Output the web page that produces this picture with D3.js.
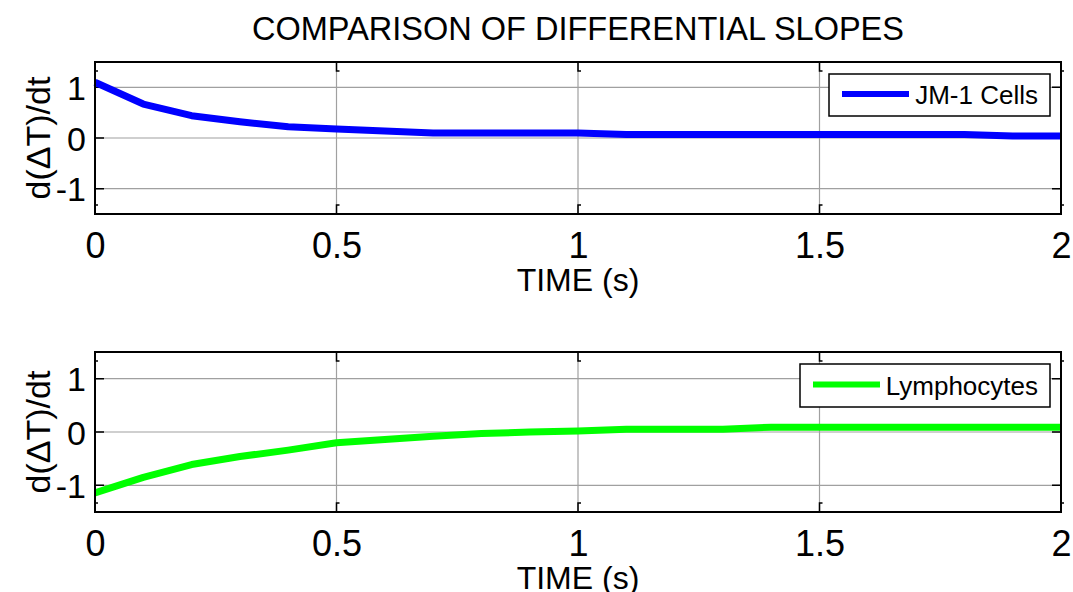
<!DOCTYPE html>
<html>
<head>
<meta charset="utf-8">
<script src="https://cdn.jsdelivr.net/npm/d3@7"></script>
<style>
  html, body { margin: 0; padding: 0; background: #fff; }
  svg { display: block; font-family: Arial, "Liberation Sans", sans-serif; }
</style>
</head>
<body>
<svg id="chart" width="1073" height="592"></svg>
<script>
// Time samples (s)
const time = [0, 0.1, 0.2, 0.3, 0.4, 0.5, 0.6, 0.7, 0.8, 0.9, 1.0,
              1.1, 1.2, 1.3, 1.4, 1.5, 1.6, 1.7, 1.8, 1.9, 2.0];
// Differential slope d(ΔT)/dt for each cell type
const jm1Cells = [1.10, 0.67, 0.44, 0.32, 0.22, 0.18, 0.14, 0.10, 0.10, 0.10, 0.10,
                  0.07, 0.07, 0.07, 0.07, 0.07, 0.07, 0.07, 0.07, 0.04, 0.04];
const lymphocytes = [-1.14, -0.85, -0.61, -0.46, -0.34, -0.20, -0.14, -0.08, -0.03, 0.00, 0.02,
                     0.05, 0.05, 0.05, 0.09, 0.09, 0.09, 0.09, 0.09, 0.09, 0.09];
const xTicks = [0, 0.5, 1, 1.5, 2];
const yTicks = [-1, 0, 1];
const xDomain = [0, 2];
const yDomain = [-1.5, 1.5];

const FONT = "Arial, 'Liberation Sans', sans-serif";
const svg = d3.select("#chart");

svg.append("text")
  .attr("x", 578).attr("y", 40)
  .attr("text-anchor", "middle")
  .attr("font-size", 32.5)
  .text("COMPARISON OF DIFFERENTIAL SLOPES");

const panels = [
  { data: jm1Cells, color: "#0000ff", name: "JM-1 Cells",
    top: 62, bottom: 214, legend: { x0: 829, x1: 1050, y0: 74, y1: 116 } },
  { data: lymphocytes, color: "#00ff00", name: "Lymphocytes",
    top: 352, bottom: 512, legend: { x0: 800, x1: 1050, y0: 364, y1: 407 } }
];

const left = 95, right = 1061;
const tickText = d => String(d);

panels.forEach(p => {
  const x = d3.scaleLinear().domain(xDomain).range([left, right]);
  const y = d3.scaleLinear().domain(yDomain).range([p.bottom, p.top]);
  const g = svg.append("g");

  // grid
  g.selectAll(".gx").data(xTicks.slice(1, -1)).join("line")
    .attr("x1", d => x(d)).attr("x2", d => x(d))
    .attr("y1", p.top).attr("y2", p.bottom)
    .attr("stroke", "#a0a0a0").attr("stroke-width", 1.2);
  g.selectAll(".gy").data(yTicks).join("line")
    .attr("x1", left).attr("x2", right)
    .attr("y1", d => y(d)).attr("y2", d => y(d))
    .attr("stroke", "#a0a0a0").attr("stroke-width", 1.2);

  // tick marks (inward, on all four sides)
  const tl = 9;
  xTicks.forEach(t => {
    const xx = x(t);
    g.append("path")
      .attr("d", `M${xx},${p.top}V${p.top + tl}h3M${xx},${p.bottom}V${p.bottom - tl}h3`)
      .attr("fill", "none").attr("stroke", "#000").attr("stroke-width", 1.5);
  });
  yTicks.forEach(t => {
    const yy = y(t);
    g.append("path")
      .attr("d", `M${left},${yy}h${tl}M${right},${yy}h${-tl}`)
      .attr("fill", "none").attr("stroke", "#000").attr("stroke-width", 1.5);
  });

  // data line
  const line = d3.line().x((d, i) => x(time[i])).y(d => y(d));
  g.append("path")
    .datum(p.data)
    .attr("d", line)
    .attr("fill", "none")
    .attr("stroke", p.color)
    .attr("stroke-width", 7)
    .attr("stroke-linejoin", "round");

  // axes box
  g.append("rect")
    .attr("x", left).attr("y", p.top)
    .attr("width", right - left).attr("height", p.bottom - p.top)
    .attr("fill", "none").attr("stroke", "#000").attr("stroke-width", 2);

  // tick labels
  const xAxis = d3.axisBottom(x).tickValues(xTicks).tickSize(0).tickPadding(0)
    .tickFormat(tickText);
  const ax = g.append("g").attr("transform", `translate(0,${p.bottom})`).call(xAxis);
  ax.select(".domain").remove();
  ax.selectAll("text").attr("font-size", 36).attr("dy", null).attr("y", 44)
    .attr("fill", "#000").attr("font-family", FONT);

  const yAxis = d3.axisLeft(y).tickValues(yTicks).tickSize(0).tickPadding(0)
    .tickFormat(tickText);
  const ay = g.append("g").attr("transform", `translate(${left},0)`).call(yAxis);
  ay.select(".domain").remove();
  ay.selectAll("text").attr("font-size", 34).attr("x", -9).attr("dy", "0.36em")
    .attr("fill", "#000").attr("font-family", FONT);

  // axis titles
  g.append("text")
    .attr("x", (left + right) / 2).attr("y", p.bottom + 77)
    .attr("text-anchor", "middle").attr("font-size", 32)
    .text("TIME (s)");
  g.append("text")
    .attr("transform", `translate(50,${(p.top + p.bottom) / 2}) rotate(-90)`)
    .attr("text-anchor", "middle").attr("font-size", 34)
    .text("d(\u0394T)/dt");

  // legend
  const L = p.legend;
  g.append("rect")
    .attr("x", L.x0).attr("y", L.y0)
    .attr("width", L.x1 - L.x0).attr("height", L.y1 - L.y0)
    .attr("fill", "#fff").attr("stroke", "#000").attr("stroke-width", 1.5);
  const ly = (L.y0 + L.y1) / 2 - 1;
  g.append("line")
    .attr("x1", L.x0 + 13).attr("x2", L.x0 + 80)
    .attr("y1", ly).attr("y2", ly)
    .attr("stroke", p.color).attr("stroke-width", 6);
  g.append("text")
    .attr("x", L.x1 - 12).attr("y", ly + 10)
    .attr("text-anchor", "end").attr("font-size", 26)
    .text(p.name);
});
</script>
</body>
</html>
